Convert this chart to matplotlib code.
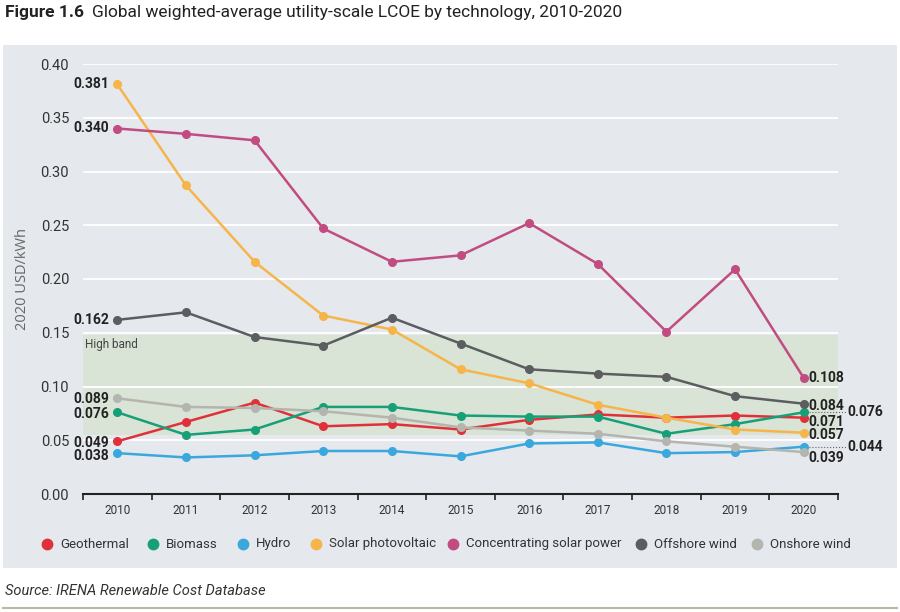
import matplotlib
matplotlib.use("Agg")
import matplotlib.pyplot as plt
from matplotlib.patches import Rectangle
from matplotlib.lines import Line2D
from matplotlib.transforms import offset_copy

years = [2010, 2011, 2012, 2013, 2014, 2015, 2016, 2017, 2018, 2019, 2020]
series_names = ["Geothermal", "Biomass", "Hydro", "Solar photovoltaic",
                "Concentrating solar power", "Offshore wind", "Onshore wind"]
geothermal = [0.049, 0.067, 0.085, 0.063, 0.065, 0.060, 0.069, 0.074, 0.071, 0.073, 0.071]
biomass = [0.076, 0.055, 0.060, 0.081, 0.081, 0.073, 0.072, 0.072, 0.056, 0.065, 0.076]
hydro = [0.038, 0.034, 0.036, 0.040, 0.040, 0.035, 0.047, 0.048, 0.038, 0.039, 0.044]
solar_pv = [0.381, 0.287, 0.216, 0.166, 0.153, 0.116, 0.103, 0.083, 0.071, 0.060, 0.057]
csp = [0.340, 0.335, 0.329, 0.247, 0.216, 0.222, 0.252, 0.214, 0.151, 0.209, 0.108]
offshore = [0.162, 0.169, 0.146, 0.138, 0.164, 0.140, 0.116, 0.112, 0.109, 0.091, 0.084]
onshore = [0.089, 0.081, 0.080, 0.077, 0.071, 0.062, 0.059, 0.056, 0.049, 0.044, 0.039]
series_values = [geothermal, biomass, hydro, solar_pv, csp, offshore, onshore]
colors = ["#e0313a", "#17a078", "#3aa8dc", "#f6b54b", "#c14c81", "#5b5d61", "#b3b5ae"]
band_low, band_high = 0.055, 0.148
yticks = [0.00, 0.05, 0.10, 0.15, 0.20, 0.25, 0.30, 0.35, 0.40]

# end labels that sit further right with a dotted leader
right_offset = {"Biomass", "Hydro"}
# small vertical nudges (points, negative = down) so labels don't collide
left_nudge = {"Geothermal": -1.5, "Biomass": -1.5, "Hydro": -2, "Onshore wind": -0.5}
right_nudge = {"Geothermal": -3, "Solar photovoltaic": -1.5, "Onshore wind": -4,
               "Offshore wind": -1.5}

FONT = "Roboto"
plt.rcParams['font.family'] = [FONT, 'DejaVu Sans']

W, H = 900, 612
fig = plt.figure(figsize=(9, 6.12), dpi=100)
fig.patch.set_facecolor("white")

panel_col = "#e5e8ed"
fig.patches.append(Rectangle((3 / W, 1 - 568 / H), 894 / W, (568 - 45) / H,
                             transform=fig.transFigure, facecolor=panel_col,
                             edgecolor="none", zorder=0))
fig.add_artist(Line2D([3 / W, 897 / W], [1 - 608 / H, 1 - 608 / H],
                      transform=fig.transFigure, color="#b9ba9e", lw=1.5))

ax = fig.add_axes([83 / W, 1 - 494 / H, (838 - 83) / W, (494 - 64) / H])
ax.set_facecolor("none")
ax.set_xlim(2009.5, 2020.5)
ax.set_ylim(0, 0.40)
ax.set_zorder(2)

ax.axhspan(band_low, band_high, color="#d9e3d6", zorder=0, lw=0)
ax.text(2009.5 + 0.03, band_high - 0.003, "High band", fontsize=8.5,
        color="#444444", va="top", ha="left")

for y in yticks[1:]:
    ax.axhline(y, color="white", lw=1.3, zorder=1)

for name, vals, c in zip(series_names, series_values, colors):
    ax.plot(years, vals, color=c, lw=1.8, marker="o", ms=5.5, zorder=3,
            solid_capstyle="round")

for name, vals in zip(series_names, series_values):
    tr = offset_copy(ax.transData, fig=fig, x=0, y=left_nudge.get(name, 0), units="points")
    ax.text(years[0] - 0.12, vals[0], f"{vals[0]:.3f}", ha="right", va="center",
            fontsize=10, fontweight="bold", color="#222222", zorder=4, transform=tr)

for name, vals, c in zip(series_names, series_values, colors):
    v = vals[-1]
    tr = offset_copy(ax.transData, fig=fig, x=0, y=right_nudge.get(name, 0), units="points")
    if name in right_offset:
        ax.plot([years[-1] + 0.08, years[-1] + 0.62], [v, v], ls=":",
                color="#666666", lw=0.8, zorder=2, clip_on=False)
        ax.text(years[-1] + 0.64, v, f"{v:.3f}", ha="left", va="center",
                fontsize=10, fontweight="bold", color="#222222", clip_on=False,
                transform=tr)
    else:
        ax.text(years[-1] + 0.07, v, f"{v:.3f}", ha="left", va="center",
                fontsize=10, fontweight="bold", color="#222222", clip_on=False,
                transform=tr)

ax.set_yticks(yticks)
ax.set_yticklabels([f"{t:.2f}" for t in yticks], fontsize=10.5, color="#333333")
ax.set_xticks(years)
ax.set_xticklabels([str(y) for y in years], fontsize=8.5, color="#333333")
ax.set_xticks([y + 0.5 for y in [2009] + years], minor=True)
ax.tick_params(axis="y", length=0, pad=10)
ax.tick_params(axis="x", which="major", length=0, pad=7)
ax.tick_params(axis="x", which="minor", length=4, width=1.2, color="#222222",
               direction="out")
for s in ["top", "right", "left"]:
    ax.spines[s].set_visible(False)
ax.spines["bottom"].set_color("#222222")
ax.spines["bottom"].set_linewidth(1.5)
ax.set_ylabel("2020 USD/kWh", fontsize=10.5, color="#666666", labelpad=8,
              family=["Open Sans", "DejaVu Sans"])

t1 = fig.text(5 / W, 1 - 12 / H, "Figure 1.6", fontsize=12.5, fontweight="bold",
              color="#222222", va="center", ha="left")
fig.canvas.draw()
r = fig.canvas.get_renderer()
bb = t1.get_window_extent(r)
fig.text((bb.x1 + 8) / W, 1 - 12 / H,
         "Global weighted-average utility-scale LCOE by technology, 2010-2020",
         fontsize=12.5, color="#222222", va="center", ha="left")

leg_x = [47, 153, 243, 316, 453, 641, 757]
leg_y = 1 - 544 / H
for name, c, lx in zip(series_names, colors, leg_x):
    fig.add_artist(Line2D([lx / W], [leg_y], marker="o", ms=7.5, color=c,
                          transform=fig.transFigure, lw=0))
    fig.text((lx + 13) / W, leg_y, name, fontsize=9.5, color="#333333",
             va="center", ha="left")

fig.text(5 / W, 1 - 591 / H, "Source: IRENA Renewable Cost Database",
         fontsize=10.5, style="italic", color="#333333", va="center", ha="left")

fig.savefig("out.png", dpi=100)
